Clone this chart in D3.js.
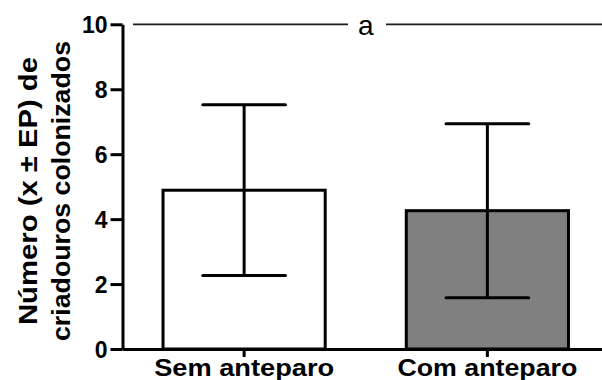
<!DOCTYPE html>
<html>
<head>
<meta charset="utf-8">
<script src="https://cdn.jsdelivr.net/npm/d3@7"></script>
<style>
  html, body { margin: 0; padding: 0; background: #fff; }
  svg { display: block; }
  text { font-family: "Liberation Sans", Arial, Helvetica, sans-serif; fill: #000; }
</style>
</head>
<body>
<svg id="chart" width="602" height="380"></svg>
<script>
// Colonised breeding sites per treatment (mean ± standard error)
const categories = ["Sem anteparo", "Com anteparo"];
const means = [4.89, 4.26];
const stdErrors = [2.63, 2.68];
const yTicks = [0, 2, 4, 6, 8, 10];
const groupLabel = "a";
const yTitleLines = ["Número (x ± EP) de", "criadouros colonizados"];

const barFills = ["#ffffff", "#808080"];

const svg = d3.select("#chart");
const W = 602, H = 380;
const axisX = 122.5;
const plotTop = 24.3, plotBottom = 349;

const x = d3.scaleBand()
  .domain(categories)
  .range([axisX, 609])
  .paddingInner(1 / 3)
  .paddingOuter(1 / 6);

const y = d3.scaleLinear()
  .domain([0, 10])
  .range([plotBottom, plotTop]);

// bars
const g = svg.append("g");
g.selectAll("rect.bar")
  .data(categories)
  .join("rect")
  .attr("class", "bar")
  .attr("x", d => x(d))
  .attr("y", (d, i) => y(means[i]))
  .attr("width", x.bandwidth())
  .attr("height", (d, i) => y(0) - y(means[i]))
  .attr("fill", (d, i) => barFills[i])
  .attr("stroke", "#000")
  .attr("stroke-width", 3);

// error bars
const capHalf = x.bandwidth() * 0.255;
const eb = g.selectAll("g.err")
  .data(categories)
  .join("g")
  .attr("class", "err")
  .attr("stroke", "#000")
  .attr("stroke-width", 3);
eb.append("line")
  .attr("x1", d => x(d) + x.bandwidth() / 2)
  .attr("x2", d => x(d) + x.bandwidth() / 2)
  .attr("y1", (d, i) => y(means[i] + stdErrors[i]))
  .attr("y2", (d, i) => y(means[i] - stdErrors[i]));
eb.append("line")
  .attr("x1", d => x(d) + x.bandwidth() / 2 - capHalf)
  .attr("x2", d => x(d) + x.bandwidth() / 2 + capHalf)
  .attr("y1", (d, i) => y(means[i] + stdErrors[i]))
  .attr("y2", (d, i) => y(means[i] + stdErrors[i]))
  .attr("stroke-linecap", "round");
eb.append("line")
  .attr("x1", d => x(d) + x.bandwidth() / 2 - capHalf)
  .attr("x2", d => x(d) + x.bandwidth() / 2 + capHalf)
  .attr("y1", (d, i) => y(means[i] - stdErrors[i]))
  .attr("y2", (d, i) => y(means[i] - stdErrors[i]))
  .attr("stroke-linecap", "round");

// x axis
const xAxis = svg.append("g")
  .attr("transform", `translate(0,${plotBottom})`)
  .call(d3.axisBottom(x).tickSize(8).tickSizeOuter(0).tickPadding(4));
xAxis.select(".domain").attr("stroke", "#000").attr("stroke-width", 3);
xAxis.selectAll(".tick line").attr("stroke", "#000").attr("stroke-width", 3);
xAxis.selectAll(".tick text")
  .attr("font-size", 24.5)
  .attr("font-weight", "bold")
  .attr("dy", null)
  .attr("y", 26.5)
  .attr("textLength", 180)
  .attr("lengthAdjust", "spacingAndGlyphs");

// y axis
const yAxis = svg.append("g")
  .attr("transform", `translate(${axisX},0)`)
  .call(d3.axisLeft(y).tickValues(yTicks).tickSize(12).tickSizeOuter(0).tickPadding(3));
yAxis.select(".domain").attr("stroke", "#000").attr("stroke-width", 3);
yAxis.selectAll(".tick line").attr("stroke", "#000").attr("stroke-width", 3);
yAxis.selectAll(".tick text")
  .attr("font-size", 23)
  .attr("font-weight", "bold")
  .attr("dy", "0.36em");

// y axis title, two lines
const titleG = svg.append("g")
  .attr("transform", "translate(0,191) rotate(-90)");
titleG.selectAll("text")
  .data(yTitleLines)
  .join("text")
  .attr("x", 0)
  .attr("y", (d, i) => i === 0 ? 36.5 : 70)
  .attr("text-anchor", "middle")
  .attr("font-size", 25)
  .attr("font-weight", "bold")
  .attr("textLength", (d, i) => i === 0 ? 268 : 300)
  .attr("lengthAdjust", "spacingAndGlyphs")
  .text(d => d);

// group letter with its bracket line across both bars
const labelX = (x(categories[0]) + x(categories[1]) + x.bandwidth()) / 2;
const lineY = y(10);
const letter = svg.append("text")
  .attr("x", labelX)
  .attr("y", lineY + 10.3)
  .attr("text-anchor", "middle")
  .attr("font-size", 28)
  .text(groupLabel);
const bb = letter.node().getBBox();
const gap = 12;
svg.append("line")
  .attr("x1", axisX + 10.5).attr("x2", bb.x - gap + 2)
  .attr("y1", lineY).attr("y2", lineY)
  .attr("stroke", "#1a1a1a").attr("stroke-width", 1.8);
svg.append("line")
  .attr("x1", bb.x + bb.width + gap).attr("x2", W + 5)
  .attr("y1", lineY).attr("y2", lineY)
  .attr("stroke", "#1a1a1a").attr("stroke-width", 1.8);
</script>
</body>
</html>
